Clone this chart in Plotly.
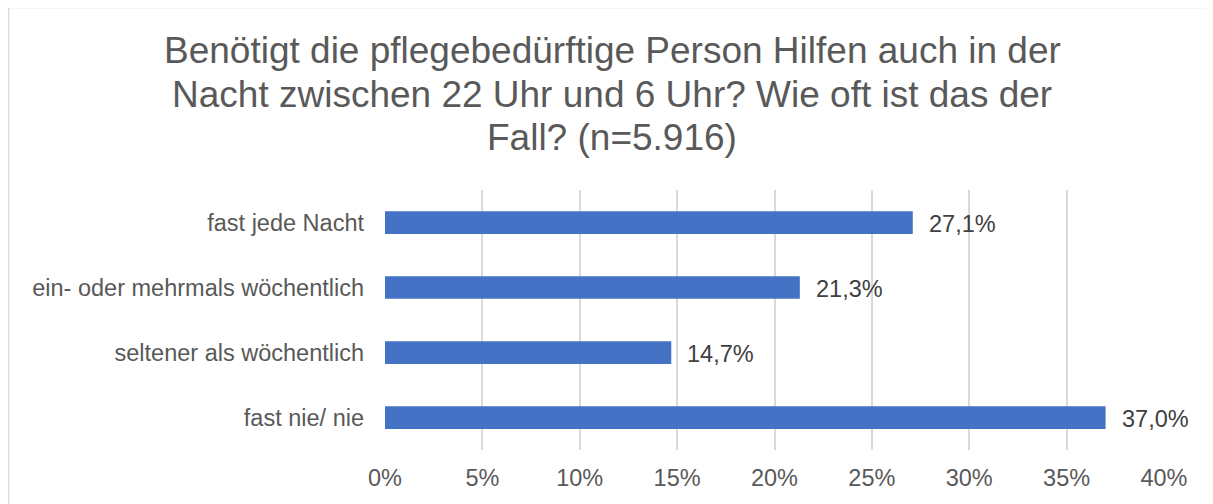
import plotly.graph_objects as go

categories = ["fast jede Nacht", "ein- oder mehrmals wöchentlich", "seltener als wöchentlich", "fast nie/ nie"]
values = [27.1, 21.3, 14.7, 37.0]
tick_vals = [0, 5, 10, 15, 20, 25, 30, 35, 40]
tick_labels = ["0%", "5%", "10%", "15%", "20%", "25%", "30%", "35%", "40%"]
title_lines = [
    "Benötigt die pflegebedürftige Person Hilfen auch in der",
    "Nacht zwischen 22 Uhr und 6 Uhr? Wie oft ist das der",
    "Fall? (n=5.916)",
]

OFF = 8  # page body margin offset
W, H = 1213, 504
# target pixel positions in screenshot
PL, PR, PT, PB = 385, 1164, 190, 450
ML = PL - OFF
MT = PT - OFF
MR = W - (PR - OFF)
MB = H - (PB - OFF)
pw, ph = W - ML - MR, H - MT - MB

FONT = "Arial, 'Liberation Sans', sans-serif"

fig = go.Figure()
fig.add_trace(go.Bar(
    y=categories, x=values, orientation="h",
    marker=dict(color="#4472C4", line=dict(width=0)),
    width=0.35, hoverinfo="skip",
))

for c, v in zip(categories, values):
    fig.add_annotation(
        x=v, y=c, xref="x", yref="y",
        text=f"{v:.1f}".replace(".", ",") + "%",
        showarrow=False, xanchor="left", xshift=14, yshift=-1,
        font=dict(family=FONT, size=23.5, color="#404040"),
    )

def px_to_paper_y(py):
    return 1 - (py - OFF - MT) / ph

def px_to_paper_x(pxv):
    return (pxv - OFF - ML) / pw

baselines = [65, 108.5, 152]
for line, b in zip(title_lines, baselines):
    fig.add_annotation(
        x=px_to_paper_x(612), y=px_to_paper_y(b + 8), xref="paper", yref="paper",
        text=line, showarrow=False, xanchor="center", yanchor="bottom",
        font=dict(family=FONT, size=37, color="#595959"),
    )

# chart border (left and top edges visible)
fig.add_shape(type="line", xref="paper", yref="paper",
              x0=px_to_paper_x(8.5), x1=px_to_paper_x(8.5),
              y0=px_to_paper_y(7.5), y1=px_to_paper_y(530),
              line=dict(color="#D9D9D9", width=1.5))
fig.add_shape(type="line", xref="paper", yref="paper",
              x0=px_to_paper_x(8.5), x1=px_to_paper_x(1230),
              y0=px_to_paper_y(7.5), y1=px_to_paper_y(7.5),
              line=dict(color="#D9D9D9", width=1.5))

fig.update_layout(
    width=W, height=H,
    margin=dict(l=ML, r=MR, t=MT, b=MB, autoexpand=False),
    paper_bgcolor="white", plot_bgcolor="white",
    showlegend=False,
    font=dict(family=FONT, size=23.5, color="#595959"),
    xaxis=dict(
        range=[0, 40], tickmode="array", tickvals=tick_vals, ticktext=tick_labels,
        showgrid=True, gridcolor="#D9D9D9", gridwidth=1.5,
        zeroline=False, showline=False, ticks="",
        tickfont=dict(family=FONT, size=23.5, color="#595959"),
        ticklabelstandoff=11,
    ),
    yaxis=dict(
        categoryorder="array", categoryarray=categories, autorange="reversed",
        showgrid=False, zeroline=False, showline=False, ticks="",
        tickfont=dict(family=FONT, size=23.5, color="#595959"),
        ticklabelstandoff=20,
    ),
)

fig.write_html("out.html")
